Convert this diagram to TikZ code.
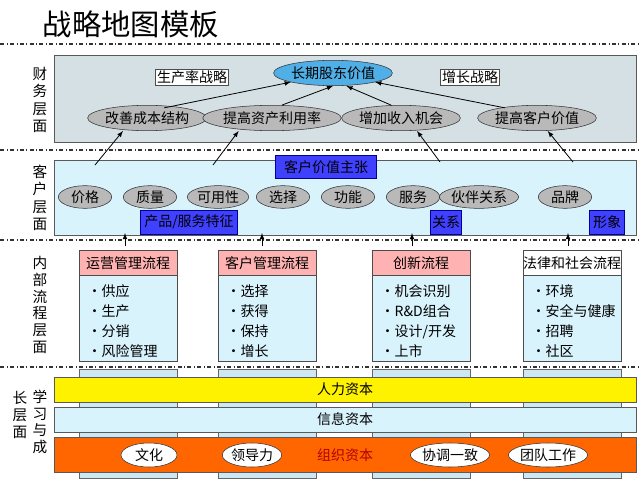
\documentclass[tikz,border=0pt]{standalone}
\usepackage{fontspec}
\setmainfont{Noto Sans CJK SC}
\usetikzlibrary{shapes.geometric}
\begin{document}
\begin{tikzpicture}[x=0.75pt,y=-0.75pt,
  every node/.style={font=\fontsize{10.5}{12}\selectfont},
  band/.style={draw=gray!70!black,line width=0.6pt},
  sep/.style={dash dot,line width=0.9pt,black!80},
  bluebox/.style={fill=blue!75!white,draw=blue!60!black,text=black,inner sep=1pt},
  whitebox/.style={fill=white,draw=black!70,inner sep=1pt},
  arr/.style={-latex,line width=0.6pt},
  col/.style={fill=gray!35!cyan!25!white,draw=black!60}]
\useasboundingbox (0,0) rectangle (641,481);
\node[font=\fontsize{22}{26}\selectfont,anchor=west] (title) at (38,24) {战略地图模板};
% separators
\foreach \yy in {44,150,240,367}{\draw[sep] (0,\yy) -- (641,\yy);}
% left labels
\node[align=center,font=\fontsize{11}{13}\selectfont] (lf) at (40,100) {财\\务\\层\\面};
\node[align=center,font=\fontsize{11}{13}\selectfont] (lc) at (40,198) {客\\户\\层\\面};
\node[align=center,font=\fontsize{11}{12.5}\selectfont] (li) at (40,305) {内\\部\\流\\程\\层\\面};
\node[align=center,font=\fontsize{11}{12.5}\selectfont] (ll1) at (40,422) {学\\习\\与\\成};
\node[align=center,font=\fontsize{11}{12.5}\selectfont] (ll2) at (20,415) {长\\层\\面};
% financial
\draw[band,fill=cyan!25!gray!30!white] (54,55) rectangle (636,142);
\node[whitebox] (prod) at (192,77) {生产率战略};
\node[whitebox] (grow) at (470,77) {增长战略};
\node[ellipse,draw=black!80,fill=cyan!80!blue!70!white,minimum width=88pt,minimum height=19pt,inner sep=0pt] (lt) at (333,73) {长期股东价值};
\foreach \n/\x/\t in {f1/147/改善成本结构,f2/272/提高资产利用率,f3/401/增加收入机会,f4/537/提高客户价值}{
  \node[ellipse,draw=black!80,fill=gray!55,minimum width=88pt,minimum height=19pt,inner sep=0pt] (\n) at (\x,118) {\t};}
\draw[arr] (f1.north east) ++(-25,-1) -- (lt.south west);
\draw[arr] (f2.north) ++(10,0) -- (lt.south);
\draw[arr] (f3.north) ++(-10,0) -- ([xshift=10pt]lt.south);
\draw[arr] (f4.north west) ++(10,-1) -- (lt.south east);
% customer
\draw[band,fill=cyan!15!white] (54,160) rectangle (636,235);
\node[bluebox,minimum width=76pt,minimum height=17pt] (cvp) at (326,167) {客户价值主张};
\foreach \n/\x/\w/\t in {c1/85/40/价格,c2/150/40/质量,c3/218/46/可用性,c4/283/40/选择,c5/348/40/功能,c6/413/40/服务,c7/479/58/伙伴关系,c8/565/40/品牌}{
  \node[ellipse,draw=black!80,fill=gray!55,minimum width=\w pt,minimum height=17pt,inner sep=0pt] (\n) at (\x,197) {\t};}
\node[bluebox,minimum width=73pt,minimum height=18pt] (pf) at (189,222) {产品/服务特征};
\node[bluebox,minimum width=22pt,minimum height=18pt] (rel) at (446,222) {关系};
\node[bluebox,minimum width=26pt,minimum height=18pt] (img) at (607,222) {形象};
\coordinate (a1) at (95,165); \coordinate (a2) at (213,165);
\coordinate (a3) at (440,162); \coordinate (a4) at (573,162);
\draw[arr] (a1) -- ([xshift=-18pt]f1.south);
\draw[arr] (a2) -- ([xshift=-25pt]f2.south);
\draw[arr] (a3) -- ([xshift=12pt]f3.south);
\draw[arr] (a4) -- ([xshift=8pt]f4.south);
% gray columns (learning)
\foreach \x in {79,218,372,523}{\draw[col] (\x,369) rectangle (\x+98,478);}
% internal boxes
\foreach \n/\x/\h/\hc/\b in {p1/79/运营管理流程/red!30!white/{•供应\\•生产\\•分销\\•风险管理},p2/218/客户管理流程/red!30!white/{•选择\\•获得\\•保持\\•增长},p3/372/创新流程/red!30!white/{•机会识别\\•R\&D组合\\•设计/开发\\•上市},p4/523/法律和社会流程/white/{•环境\\•安全与健康\\•招聘\\•社区}}{
  \draw[fill=cyan!15!white,draw=black!70] (\x,250) rectangle (\x+98,361);
  \draw[fill=\hc,draw=black!70] (\x,250) rectangle (\x+98,275);
  \node (\n) at (\x+49,263) {\h};
  \node[anchor=north west,align=left,font=\fontsize{10.5}{15}\selectfont] (\n b) at (\x+4,280) {\b};}
\draw[arr] (125,246) -- (125,233);
\draw[arr] (262,246) -- (262,233);
\draw[arr] (412,246) -- (412,233);
\draw[arr] (568,246) -- (568,233);
% learning bands
\draw[band,fill=yellow] (54,377) rectangle (636,402);
\node (hc) at (345,389) {人力资本};
\draw[band,fill=cyan!15!white] (54,407) rectangle (636,432);
\node (ic) at (345,419) {信息资本};
\draw[band,fill=orange!80!red] (54,437) rectangle (636,472);
\node[text=red!70!black] (oc) at (345,455) {组织资本};
\foreach \n/\x/\w/\t in {o1/149/42/文化,o2/252/42/领导力,o3/450/54/协调一致,o4/548/54/团队工作}{
  \node[ellipse,draw=black!80,fill=white,minimum width=\w pt,minimum height=18pt,inner sep=0pt] (\n) at (\x,455) {\t};}
\end{tikzpicture}
\end{document}
